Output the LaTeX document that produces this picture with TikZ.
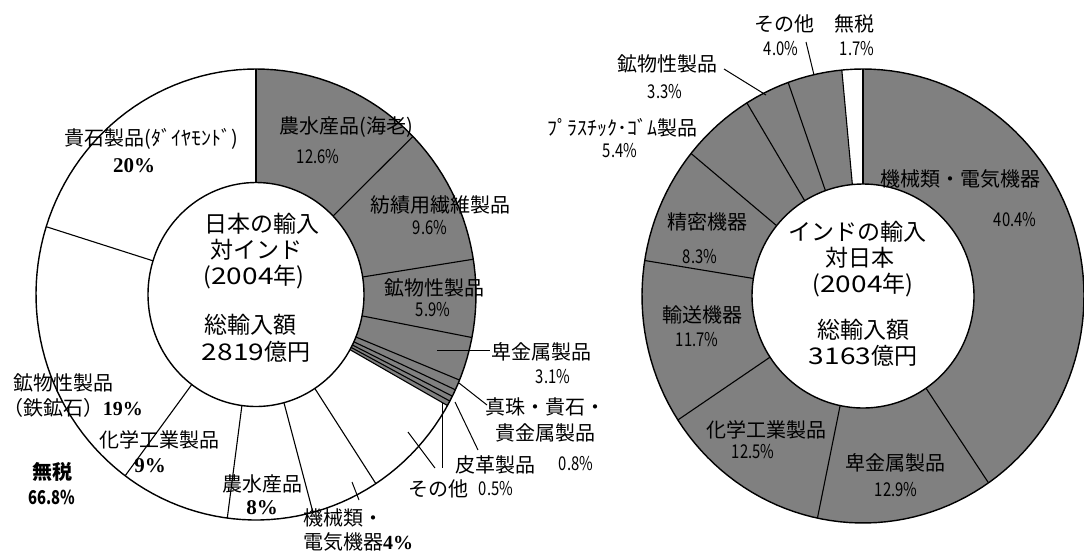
\documentclass[tikz,border=0pt]{standalone}
\usepackage{graphicx}
\usepackage{fontspec}
\setmainfont{Noto Sans CJK JP}
\newfontfamily\serifnum{Liberation Serif}
\newcommand{\nar}[1]{\scalebox{0.78}[1]{#1}}
\newcommand{\wid}[1]{\scalebox{1.22}[1]{#1}}
\newcommand{\setring}[6]{\def\CX{#1}\def\CY{#2}\def\RX{#3}\def\RY{#4}\def\rX{#5}\def\rY{#6}}
\newcommand{\ringsec}[3]{\path[#1] plot[domain=#2:#3,samples=60,variable=\t]({\CX+\RX*sin(\t)},{\CY-\RY*cos(\t)}) -- plot[domain=#3:#2,samples=60,variable=\t]({\CX+\rX*sin(\t)},{\CY-\rY*cos(\t)}) -- cycle;}
\newcommand{\radial}[1]{\draw[rad] ({\CX+\rX*sin(#1)},{\CY-\rY*cos(#1)}) -- ({\CX+\RX*sin(#1)},{\CY-\RY*cos(#1)});}
\newcommand{\rims}{\draw[rim] plot[domain=0:360,samples=150,variable=\t]({\CX+\RX*sin(\t)},{\CY-\RY*cos(\t)}) -- cycle;
  \draw[rim] plot[domain=0:360,samples=150,variable=\t]({\CX+\rX*sin(\t)},{\CY-\rY*cos(\t)}) -- cycle;}
\begin{document}
\begin{tikzpicture}[x=1pt,y=-1pt,
  lbl/.style={font=\fontsize{20}{22}\selectfont, inner sep=0pt},
  pct/.style={font=\fontsize{19}{21}\selectfont, inner sep=0pt},
  pcts/.style={font=\serifnum\bfseries\fontsize{21}{23}\selectfont, inner sep=0pt},
  ctr/.style={font=\fontsize{23}{25}\selectfont, inner sep=0pt},
  rad/.style={line width=1.1pt},
  rim/.style={line width=1.4pt},
  lead/.style={line width=1pt},
  darkfill/.style={fill=black!50}]
\useasboundingbox (0,0) rectangle (1084,552);
\fill[white] (0,0) rectangle (1084,552);
% ---------------- left chart ----------------
\setring{256}{294.5}{220}{225.5}{108}{112}
\ringsec{darkfill}{0}{119.5}
\rims
\foreach \a in {0,45.5,81,101,112.3,115,116.8,118.2,119.5,147,165,187.5,216.5,287.5}{\radial{\a}}
% centre text
\node[ctr] (lc1) at (262,224) {日本の輸入};
\node[ctr] (lc2) at (256,250) {対インド};
\node[ctr] (lc3) at (254,277) {(\wid{2004}年)};
\node[ctr] (lc4) at (250,325) {総輸入額};
\node[ctr] (lc5) at (256,352) {\wid{2819}億円};
% labels
\node[lbl] (kiseki) at (151,139) {貴石製品(ﾀﾞｲﾔﾓﾝﾄﾞ)};
\node[pcts] (kisekip) at (134,166) {20\%};
\node[lbl] (ebi) at (346,127) {農水産品(海老)};
\node[pct] (ebip) at (318,157) {\nar{12.6\%}};
\node[lbl] (boseki) at (440,205) {紡績用繊維製品};
\node[pct] (bosekip) at (430,228) {\nar{9.6\%}};
\node[lbl] (kobutsu) at (434,288) {鉱物性製品};
\node[pct] (kobutsup) at (433,310) {\nar{5.9\%}};
\node[lbl] (hikin) at (541,352) {卑金属製品};
\node[pct] (hikinp) at (553,377) {\nar{3.1\%}};
\node[lbl] (shinju1) at (545,407) {真珠・貴石・};
\node[lbl] (shinju2) at (545,433) {貴金属製品};
\node[pct] (shinjup) at (576,464) {\nar{0.8\%}};
\node[lbl] (hikaku) at (495,465) {皮革製品};
\node[pct] (hikakup) at (496,489) {\nar{0.5\%}};
\node[lbl] (sonota) at (438,489) {その他};
\node[lbl] (kikai1) at (343,518) {機械類・};
\node[lbl] (kikai2) at (358,542) {電気機器\serifnum\bfseries 4\%};
\node[lbl] (nosui) at (262,484) {農水産品};
\node[pcts] (nosuip) at (262,508) {8\%};
\node[lbl] (kagaku) at (159,440) {化学工業製品};
\node[pcts] (kagakup) at (150,466) {9\%};
\node[lbl,font=\bfseries\fontsize{20}{22}\selectfont] (muzei) at (52,472) {無税};
\node[pct,font=\bfseries\fontsize{19}{21}\selectfont] (muzeip) at (52,497) {\nar{66.8\%}};
\node[lbl] (tetsu1) at (63,383) {鉱物性製品};
\node[lbl] (tetsu2) at (73,408) {（鉄鉱石）\serifnum\bfseries 19\%};
% leaders
\coordinate (h1) at (437,350); \coordinate (h2) at (490,350);
\coordinate (s1) at (459,383); \coordinate (s2) at (487,405);
\coordinate (k1) at (455,402); \coordinate (k2) at (478,450);
\coordinate (o1) at (408,432); \coordinate (o2) at (435,468);
\coordinate (o3) at (442,403); \coordinate (o4) at (442,468);
\coordinate (m1) at (352,482); \coordinate (m2) at (359,500);
\draw[lead] (h1) -- (h2);
\draw[lead] (s1) -- (s2);
\draw[lead] (k1) -- (k2);
\draw[lead] (o1) -- (o2);
\draw[lead] (o3) -- (o4);
\draw[lead] (m1) -- (m2);
% ---------------- right chart ----------------
\setring{863}{296}{221}{227}{111}{112}
\ringsec{darkfill}{0}{354.5}
\rims
\foreach \a in {0,145.4,191.9,236.9,279,308.9,328.3,340.2,354.5}{\radial{\a}}
\node[ctr] (rc1) at (857,232) {インドの輸入};
\node[ctr] (rc2) at (860,258) {対日本};
\node[ctr] (rc3) at (863,285) {(\wid{2004}年)};
\node[ctr] (rc4) at (863,330) {総輸入額};
\node[ctr] (rc5) at (863,356) {\wid{3163}億円};
\node[lbl] (rsonota) at (784,24) {その他};
\node[pct] (rsonotap) at (781,49) {\nar{4.0\%}};
\node[lbl] (rmuzei) at (854,24) {無税};
\node[pct] (rmuzeip) at (857,49) {\nar{1.7\%}};
\node[lbl] (rkobutsu) at (667,64) {鉱物性製品};
\node[pct] (rkobutsup) at (665,92) {\nar{3.3\%}};
\node[lbl] (rplas) at (622,128) {ﾌﾟﾗｽﾁｯｸ･ｺﾞﾑ製品};
\node[pct] (rplasp) at (620,151) {\nar{5.4\%}};
\node[lbl] (rkikai) at (960,179) {機械類・電気機器};
\node[pct] (rkikaip) at (1015,220) {\nar{40.4\%}};
\node[lbl] (rseimitsu) at (707,222) {精密機器};
\node[pct] (rseimitsup) at (700,257) {\nar{8.3\%}};
\node[lbl] (ryuso) at (702,315) {輸送機器};
\node[pct] (ryusop) at (697,340) {\nar{11.7\%}};
\node[lbl] (rkagaku) at (766,430) {化学工業製品};
\node[pct] (rkagakup) at (753,452) {\nar{12.5\%}};
\node[lbl] (rhikin) at (895,463) {卑金属製品};
\node[pct] (rhikinp) at (896,490) {\nar{12.9\%}};
\coordinate (rk1) at (724,69); \coordinate (rk2) at (766,95);
\coordinate (ro1) at (806,42); \coordinate (ro2) at (814,75);
\draw[lead] (rk1) -- (rk2);
\draw[lead] (ro1) -- (ro2);
\end{tikzpicture}
\end{document}
